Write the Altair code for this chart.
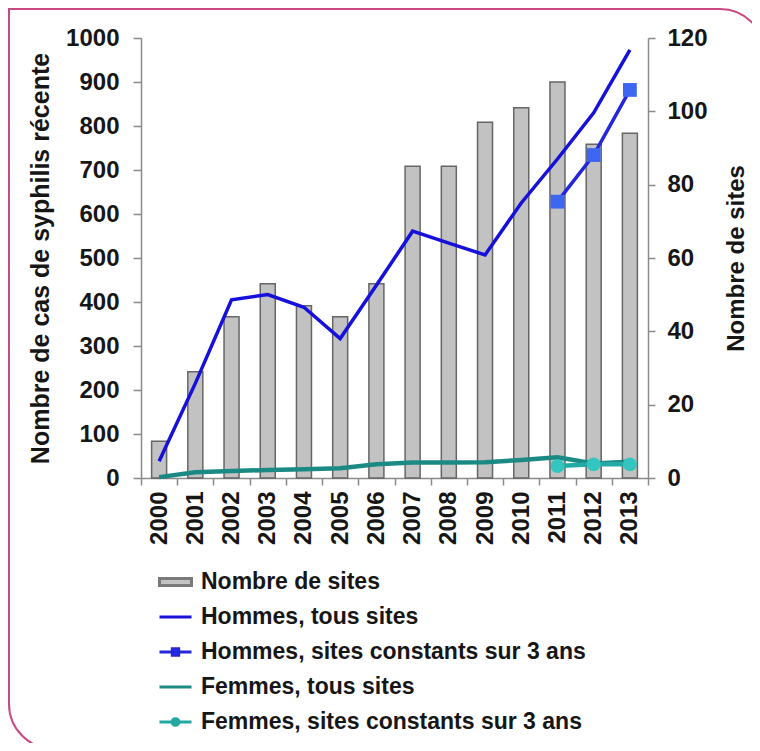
import altair as alt
import pandas as pd

# ---- data ----
years = [str(y) for y in range(2000, 2014)]
sites = [10, 29, 44, 53, 47, 44, 53, 85, 85, 97, 101, 108, 91, 94]
hommes_tous = [38, 215, 405, 417, 388, 317, 438, 561, 534, 507, 625, 725, 830, 973]
femmes_tous = [2, 13, 16, 18, 20, 22, 31, 35, 35, 36, 41, 47, 33, 37]
const_years = ["2011", "2012", "2013"]
hommes_const = [628, 734, 882]
femmes_const = [27, 31, 31]

legend_labels = [
    "Nombre de sites",
    "Hommes, tous sites",
    "Hommes, sites constants sur 3 ans",
    "Femmes, tous sites",
    "Femmes, sites constants sur 3 ans",
]
legend_fills = ["#c4c4c4", "#1a12d8", "#3d66f2", "#1c8a84", "#33c6c0"]
legend_strokes = ["#7a7a7a", "#1a12d8", "#2326dc", "#1c8a84", "#24a8a2"]
legend_shapes = [
    "M-1,-0.22H1V0.22H-1Z",
    "M-1,0H1",
    "M-1,0H1M-0.2,-0.2H0.2V0.2H-0.2Z",
    "M-1,0H1",
    "M-1,0H1M0.21,0A0.21,0.21 0 1,1 -0.21,0A0.21,0.21 0 1,1 0.21,0Z",
]

FONT = "Liberation Sans"
TXT = "#161616"

df_sites = pd.DataFrame({"year": years, "sites": sites})
df_h = pd.DataFrame({"year": years, "cases": hommes_tous})
df_f = pd.DataFrame({"year": years, "cases": femmes_tous})
df_hc = pd.DataFrame({"year": const_years, "cases": hommes_const})
df_fc = pd.DataFrame({"year": const_years, "cases": femmes_const})
df_leg = pd.DataFrame({"year": ["2000"] * 5, "cases": [0] * 5, "label": legend_labels})

x_enc = alt.X(
    "year:O",
    title=None,
    scale=alt.Scale(domain=years, paddingInner=0, paddingOuter=0),
    axis=alt.Axis(
        labelAngle=270,
        labelAlign="right",
        labelBaseline="middle",
        tickBand="extent",
        tickSize=7,
        labelPadding=6,
        grid=False,
    ),
)

left_axis = alt.Axis(
    orient="left",
    values=list(range(0, 1001, 100)),
    format="d",
    title="Nombre de cas de syphilis récente",
    titleFontSize=25,
    titlePadding=12,
    tickSize=8,
    labelPadding=14,
    grid=False,
)
y_left = alt.Y("cases:Q", scale=alt.Scale(domain=[0, 1000], nice=False), axis=left_axis)

right_axis = alt.Axis(
    orient="right",
    values=list(range(0, 121, 20)),
    title="Nombre de sites",
    titleAngle=270,
    titleBaseline="top",
    titlePadding=17,
    tickSize=7,
    labelPadding=12,
    grid=False,
)

bars = alt.Chart(df_sites).mark_bar(
    size=15, color="#c2c2c2", stroke="#666666", strokeWidth=1.5
).encode(
    x=x_enc,
    y=alt.Y("sites:Q", scale=alt.Scale(domain=[0, 120], nice=False), axis=right_axis),
)

f_line = alt.Chart(df_f).mark_line(color="#1c8a84", strokeWidth=4.5).encode(x=x_enc, y=y_left)
fc_line = alt.Chart(df_fc).mark_line(color="#24aaa4", strokeWidth=4.5).encode(x=x_enc, y=y_left)
fc_pts = alt.Chart(df_fc).mark_point(
    shape="circle", filled=True, size=190, color="#33c6c0", opacity=1
).encode(x=x_enc, y=y_left)
h_line = alt.Chart(df_h).mark_line(color="#1510dc", strokeWidth=3.5).encode(x=x_enc, y=y_left)
hc_line = alt.Chart(df_hc).mark_line(color="#2326dc", strokeWidth=3.5).encode(x=x_enc, y=y_left)
hc_pts = alt.Chart(df_hc).mark_point(
    shape="square", filled=True, size=190, color="#3d66f2", opacity=1
).encode(x=x_enc, y=y_left)

leg_common = dict(
    title=None,
    orient="none",
    legendX=17,
    legendY=532,
    symbolSize=1024,
    symbolStrokeWidth=3,
    labelFont=FONT,
    labelFontWeight="bold",
    labelFontSize=23,
    labelColor=TXT,
    labelLimit=600,
    labelOffset=8,
    clipHeight=24,
    rowPadding=11,
    padding=0,
)
legend_layer = alt.Chart(df_leg).mark_point(filled=True, opacity=1, size=1024).encode(
    x=x_enc,
    y=y_left,
    fill=alt.Fill("label:N", scale=alt.Scale(domain=legend_labels, range=legend_fills),
                  legend=alt.Legend(**leg_common)),
    stroke=alt.Stroke("label:N", scale=alt.Scale(domain=legend_labels, range=legend_strokes),
                      legend=alt.Legend(**leg_common)),
    shape=alt.Shape("label:N", scale=alt.Scale(domain=legend_labels, range=legend_shapes),
                    legend=alt.Legend(**leg_common)),
).transform_filter("false")

inner = alt.layer(f_line, fc_line, fc_pts, h_line, hc_line, hc_pts, legend_layer)

border = alt.Chart(df_sites).mark_rect(
    fillOpacity=0,
    stroke="#c94a82",
    strokeWidth=2,
    cornerRadiusTopRight=45,
    cornerRadiusBottomLeft=45,
).encode(
    x=alt.value(-132), x2=alt.value(624), y=alt.value(-29), y2=alt.value(711)
).transform_filter(alt.datum.year == "2000")

chart = alt.layer(bars, inner, border).resolve_scale(y="independent").properties(
    width=507,
    height=440,
    padding={"left": 133, "top": 30, "right": 104, "bottom": 265},
    autosize=alt.AutoSizeParams(type="none"),
    background="white",
).configure_view(stroke="transparent").configure_axis(
    labelFont=FONT,
    labelFontWeight="bold",
    labelFontSize=24,
    labelColor=TXT,
    titleFont=FONT,
    titleFontWeight="bold",
    titleFontSize=24,
    titleColor=TXT,
    domainColor="#8a8a8a",
    domainWidth=1.5,
    tickColor="#8a8a8a",
    tickWidth=1.5,
)

chart.save("out.html", embed_options={"renderer": "svg", "actions": False})
